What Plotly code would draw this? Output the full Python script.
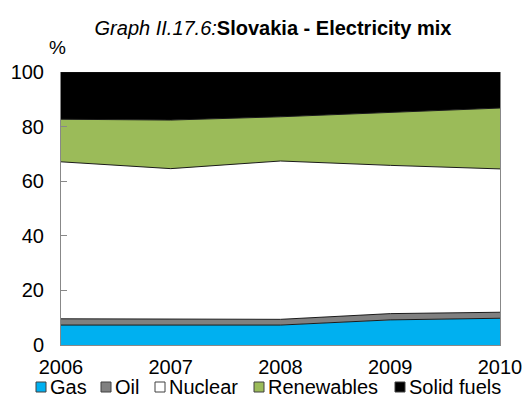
import plotly.graph_objects as go

years = [2006, 2007, 2008, 2009, 2010]
gas = [7.3, 7.3, 7.3, 9.2, 9.8]
oil = [2.3, 2.3, 2.1, 2.3, 2.2]
nuclear = [57.5, 55.0, 58.0, 54.3, 52.5]
renewables = [15.6, 17.8, 16.2, 19.3, 22.3]
solid_fuels = [17.3, 17.6, 16.4, 14.9, 13.2]

names = ["Gas", "Oil", "Nuclear", "Renewables", "Solid fuels"]
colors = ["#00B0F0", "#808080", "#FFFFFF", "#9BBB59", "#000000"]
values = [gas, oil, nuclear, renewables, solid_fuels]

W, H = 524, 408
L, R, T, B = 61, 24, 72, 63
pw, ph = W - L - R, H - T - B


def px(x):  # pixel -> paper x
    return (x - L) / pw


def py(y):  # pixel -> paper y
    return (H - B - y) / ph


fig = go.Figure()
for name, vals, col in zip(names, values, colors):
    fig.add_trace(go.Scatter(
        x=years, y=vals, name=name, mode="lines",
        stackgroup="one", fillcolor=col,
        line=dict(color="#1a1a1a", width=1),
        showlegend=False,
    ))

# legend drawn as square keys + labels along the bottom, as in the original
key_x = [36, 101, 155, 254, 395]
shapes, annotations = [], []
for kx, name, col in zip(key_x, names, colors):
    shapes.append(dict(type="rect", xref="paper", yref="paper",
                       x0=px(kx), x1=px(kx + 10), y0=py(392), y1=py(382),
                       fillcolor=col, line=dict(color="#404040", width=1)))
    annotations.append(dict(text=name, xref="paper", yref="paper",
                            x=px(kx + 12), xanchor="left", y=py(387), yanchor="middle",
                            showarrow=False, font=dict(size=20)))
annotations.append(dict(text="%", xref="paper", yref="paper", x=px(57), xanchor="center",
                        y=py(47), yanchor="middle", showarrow=False, font=dict(size=19)))

fig.update_layout(
    width=W, height=H,
    margin=dict(l=L, r=R, t=T, b=B, autoexpand=False),
    paper_bgcolor="white", plot_bgcolor="white",
    font=dict(family="Liberation Sans, Arial", color="black", size=20),
    title=dict(
        text="<i>Graph II.17.6:</i><b>Slovakia - Electricity mix</b>",
        x=273 / W, xanchor="center", y=1 - 28 / H, yanchor="middle",
        font=dict(size=20),
    ),
    showlegend=False,
    shapes=shapes,
    annotations=annotations,
)
fig.update_xaxes(range=[2006, 2010], tickvals=years, showgrid=False,
                 showline=True, linecolor="#888888", linewidth=1,
                 ticks="", ticklabelstandoff=4, zeroline=False)
fig.update_yaxes(range=[0, 100], tickvals=[0, 20, 40, 60, 80, 100], showgrid=False,
                 showline=True, linecolor="#888888", linewidth=1, mirror=True,
                 ticks="inside", ticklen=6, tickcolor="#888888",
                 ticklabelstandoff=12, zeroline=False)

# drop the page's default body margin so the figure fills the window
fig.write_html("out.html", config={"displayModeBar": False},
               post_script="document.body.style.margin='0';")
